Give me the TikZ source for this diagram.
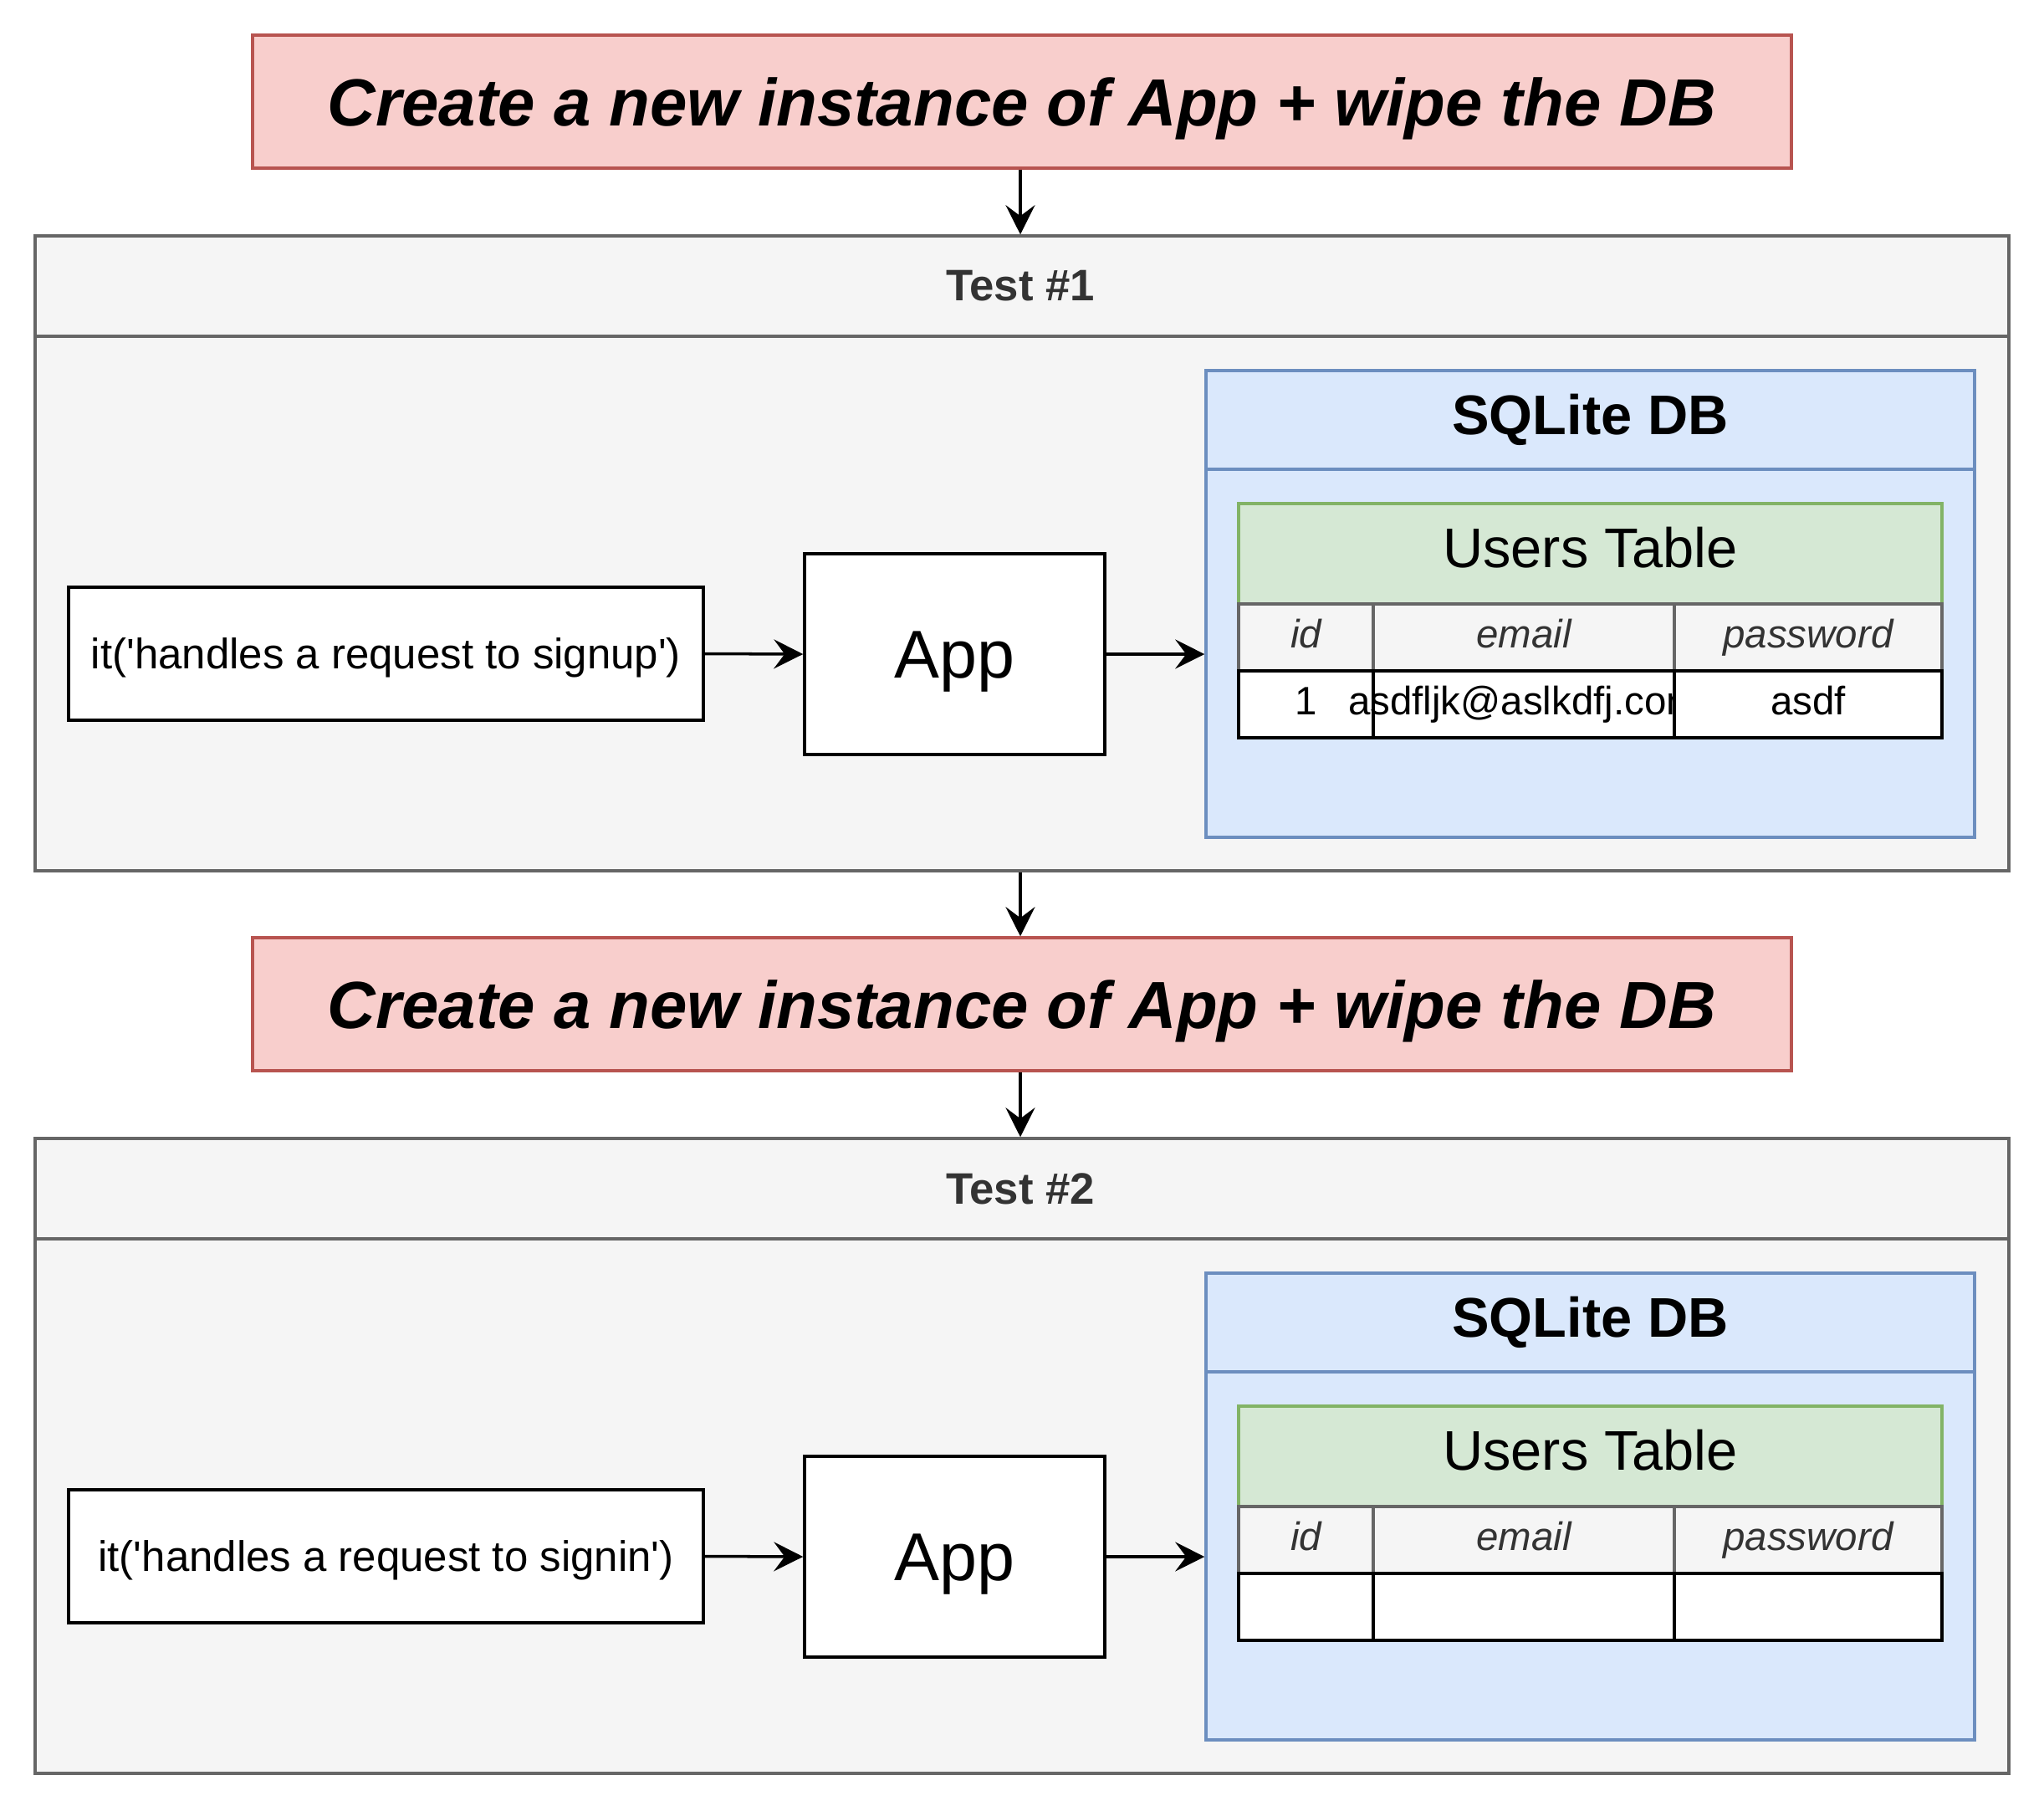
\documentclass[tikz,border=0pt]{standalone}
\usepackage{fontspec}
\setmainfont{Liberation Sans}
\usepackage{tikz}
\usetikzlibrary{arrows.meta, positioning, calc}

\definecolor{wipefill}{HTML}{F8CECC}
\definecolor{wipeline}{HTML}{B85450}
\definecolor{testfill}{HTML}{F5F5F5}
\definecolor{testline}{HTML}{666666}
\definecolor{testtext}{HTML}{333333}
\definecolor{dbfill}{HTML}{DAE8FC}
\definecolor{dbline}{HTML}{6C8EBF}
\definecolor{tabfill}{HTML}{D5E8D4}
\definecolor{tabline}{HTML}{82B366}

\tikzset{
	box/.style={draw, line width=1pt, inner sep=0pt, align=center},
	wipebox/.style={box, fill=wipefill, draw=wipeline, minimum width=18.40cm, minimum height=1.59cm,
		text height=0.73cm, text depth=0.15cm, font=\fontsize{22.7}{27}\selectfont\bfseries\itshape},
	testbox/.style={box, fill=testfill, draw=testline, minimum width=23.60cm, minimum height=7.59cm},
	dbbox/.style={box, fill=dbfill, draw=dbline, minimum width=9.19cm, minimum height=5.58cm},
	whitebox/.style={box, fill=white},
	headcell/.style={box, fill=testfill, draw=testline, minimum height=0.80cm, text=testtext,
		text height=0.34cm, text depth=0.10cm, font=\fontsize{13.5}{16}\selectfont\itshape},
	datacell/.style={box, fill=white, minimum height=0.80cm},
	celltext/.style={inner sep=0pt, text height=0.34cm, text depth=0.10cm, font=\fontsize{13.5}{16}\selectfont},
	arr/.style={-{Stealth[length=0.35cm, width=0.35cm, inset=0.13cm]}, line width=1pt}
}

\begin{document}
\begin{tikzpicture}
	\useasboundingbox (0,0) rectangle (24.44,-21.64);
	\foreach \i/\dy/\req/\vid/\vemail/\vpw in {1/0/signup/1/asdfljk@aslkdfj.com/asdf, 2/-10.79/signin///}{
		\begin{scope}[shift={(0,\dy)}]
			% wipe step
			\node[wipebox] (wipe\i) at (12.22,-1.215) {Create a new instance of App + wipe the DB};
			% test frame
			\node[testbox] (test\i) at (12.22,-6.615) {};
			\draw[line width=1pt, testline] (0.42,-4.02) -- (24.02,-4.02);
			\node[text=testtext, font=\fontsize{15}{18}\selectfont\bfseries] (title\i) at (12.20,-3.42) {Test \#\i};
			% request and app
			\node[whitebox, minimum width=7.59cm, minimum height=1.59cm, text height=0.47cm, text depth=0.11cm,
				font=\fontsize{14.5}{17}\selectfont] (req\i) at (4.615,-7.815) {it(\textquotesingle handles a request to \req\textquotesingle)};
			\node[whitebox, minimum width=3.59cm, minimum height=2.40cm, text height=0.74cm, text depth=0.17cm,
				font=\fontsize{23}{27}\selectfont] (app\i) at (11.415,-7.82) {App};
			% database
			\node[dbbox] (db\i) at (19.015,-7.22) {};
			\draw[line width=1pt, dbline] (14.42,-5.61) -- (23.61,-5.61);
			\node[font=\fontsize{19}{22}\selectfont\bfseries] (dbtitle\i) at (19.015,-5.02) {SQLite DB};
			\node[box, fill=tabfill, draw=tabline, minimum width=8.41cm, minimum height=1.20cm,
				text height=0.48cm, text depth=0.15cm, font=\fontsize{19}{22}\selectfont] (users\i) at (19.015,-6.62) {Users Table};
			\node[headcell, minimum width=1.61cm] (colid\i) at (15.615,-7.62) {id};
			\node[headcell, minimum width=3.60cm] (colemail\i) at (18.22,-7.62) {email};
			\node[headcell, minimum width=3.20cm] (colpw\i) at (21.62,-7.62) {password};
			\node[datacell, minimum width=1.61cm] (rowid\i) at (15.615,-8.42) {};
			\node[celltext] at (rowid\i) {\vid};
			\node[datacell, minimum width=3.60cm] (rowemail\i) at (18.22,-8.42) {};
			\node[celltext] at (rowemail\i) {\vemail};
			\node[datacell, minimum width=3.20cm] (rowpw\i) at (21.62,-8.42) {};
			\node[celltext] at (rowpw\i) {\vpw};
			% connectors
			\draw[arr] (wipe\i.south -| title\i) -- (test\i.north -| title\i);
			\draw[arr] (req\i.east) -- (app\i.west);
			\draw[arr] (app\i.east) -- (app\i.east -| db\i.west);
		\end{scope}
	}
	\draw[arr] (test1.south -| title1) -- (wipe2.north -| title1);
\end{tikzpicture}
\end{document}
